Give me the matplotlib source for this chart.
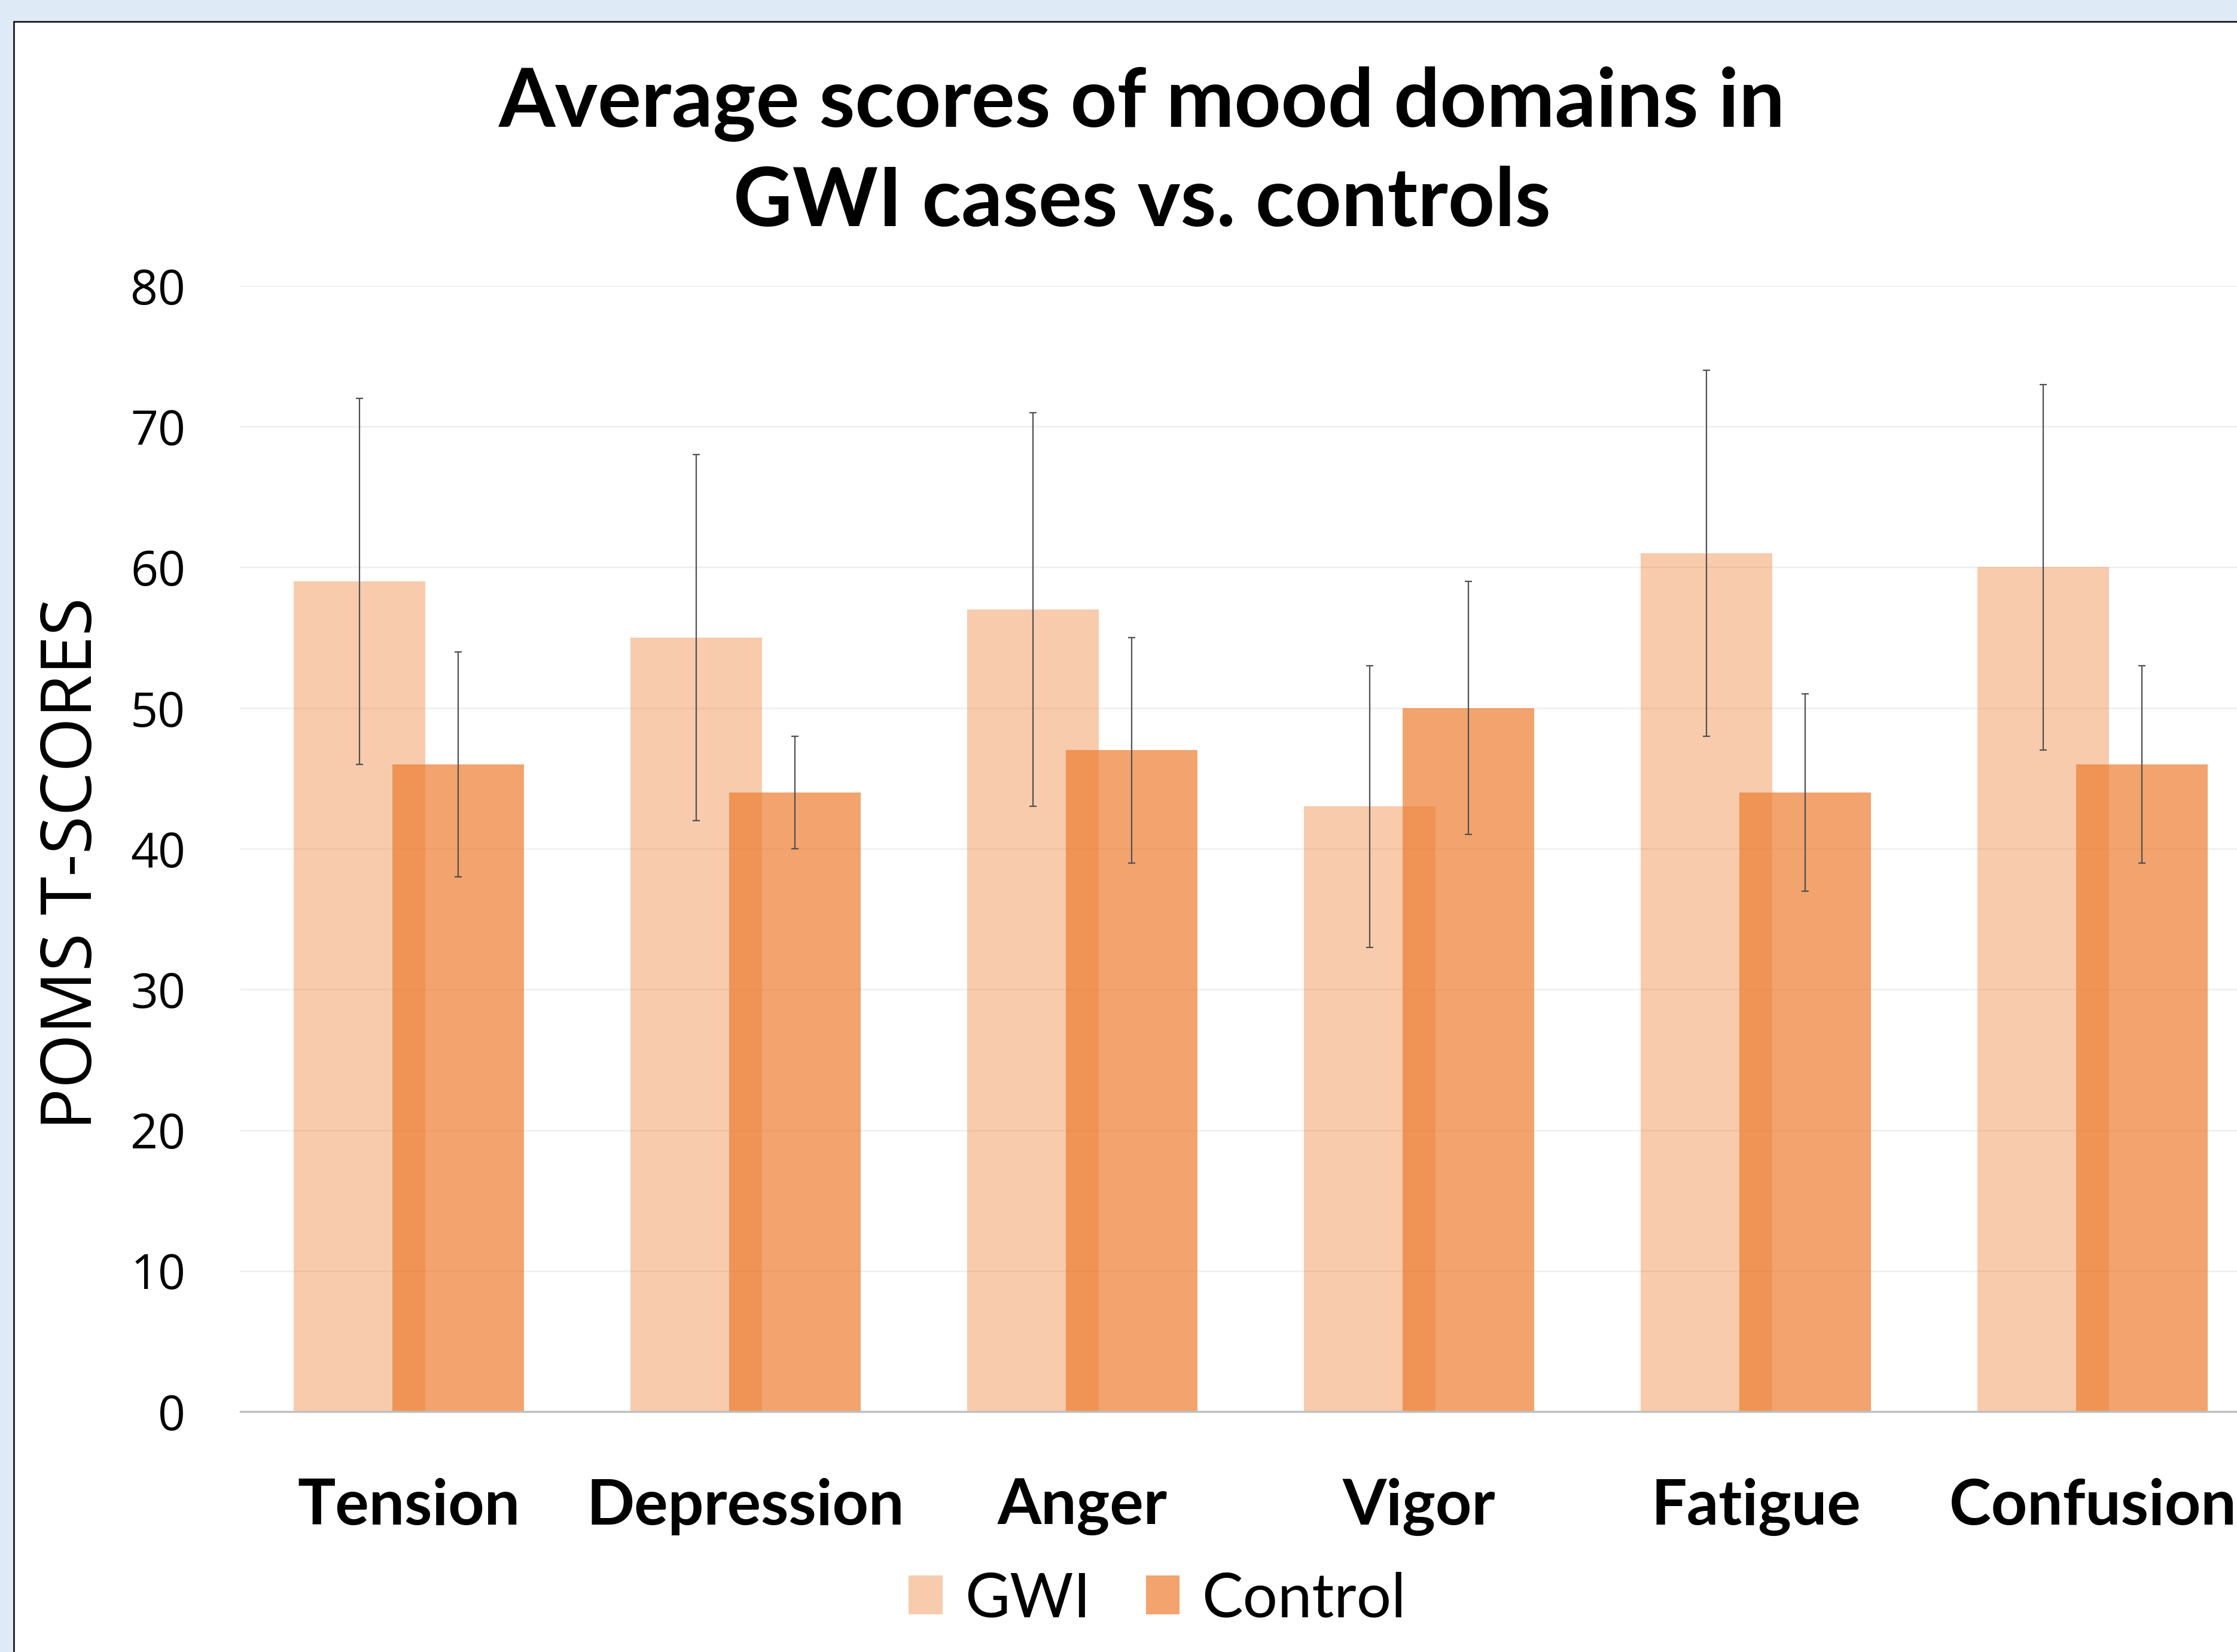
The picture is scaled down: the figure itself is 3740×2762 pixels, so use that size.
import matplotlib.pyplot as plt
import numpy as np
from matplotlib.patches import Rectangle

# Data
domains = ["Tension", "Depression", "Anger", "Vigor", "Fatigue", "Confusion"]
gwi_mean = [59, 55, 57, 43, 61, 60]
gwi_sd = [13, 13, 14, 10, 13, 13]
control_mean = [46, 44, 47, 50, 44, 46]
control_sd = [8, 4, 8, 9, 7, 7]

orange = "#ED7D31"
W, H = 3740, 2762
dpi = 100

fig = plt.figure(figsize=(W / dpi, H / dpi), dpi=dpi)
fig.patch.set_facecolor("#DEEAF6")

# white chart panel with dark border (runs off right/bottom edge)
fig.patches.append(Rectangle((23 / W, -0.1), 1.2, 1 - 36 / H + 0.1,
                             transform=fig.transFigure, facecolor="white",
                             edgecolor="#1a1a1a", linewidth=2.0, zorder=-10))

# axes placed in pixel terms: x from -0.5 to 5.5, 563 px per category
ax = fig.add_axes([402 / W, 402 / H, 6 * 563 / W, (2284 - 402) / H])
ax.set_facecolor("none")

x = np.arange(len(domains))
off = 0.1465
bw = 0.39
ax.bar(x - off, gwi_mean, bw, color=orange, alpha=0.4, label="GWI", zorder=2,
       linewidth=0)
ax.bar(x + off, control_mean, bw, color=orange, alpha=0.7, label="Control",
       zorder=2, linewidth=0)
ax.errorbar(x - off, gwi_mean, yerr=gwi_sd, fmt="none", ecolor="#505050",
            elinewidth=1.6, capsize=4.5, capthick=1.6, zorder=3)
ax.errorbar(x + off, control_mean, yerr=control_sd, fmt="none", ecolor="#505050",
            elinewidth=1.6, capsize=4.5, capthick=1.6, zorder=3)

ax.set_xlim(-0.5, 5.5)
ax.set_ylim(0, 80)
ax.set_yticks(range(0, 81, 10))
ax.yaxis.grid(True, color="#F0F0F0", linewidth=2.0, zorder=0)
ax.set_axisbelow(True)
for s in ["top", "right", "left"]:
    ax.spines[s].set_visible(False)
ax.spines["bottom"].set_color("#BFBFBF")
ax.spines["bottom"].set_linewidth(2.5)
ax.spines["bottom"].set_zorder(4)

ax.tick_params(axis="both", length=0)
ax.tick_params(axis="y", pad=66)
ax.set_yticklabels([str(v) for v in range(0, 81, 10)], fontsize=58,
                   family="Open Sans")
ax.set_xticks(x)
ax.set_xticklabels(domains, fontsize=76, fontweight="bold", family="Lato")
ax.tick_params(axis="x", pad=80)

fig.text(123 / W, 1 - 1444 / H, "POMS T-SCORES", rotation=90, ha="center",
         va="center", fontsize=84, family="Open Sans")

fig.text(1909 / W, 1 - 256 / H, "Average scores of mood domains in\nGWI cases vs. controls",
         ha="center", va="center", fontsize=98, fontweight="bold", family="Lato",
         linespacing=1.4)

fig.legend(loc="center", bbox_to_anchor=(1935 / W, 1 - 2674 / H), ncol=2,
           frameon=False, prop={"family": "Lato", "size": 74},
           handlelength=0.55, handleheight=0.6, handletextpad=0.36,
           columnspacing=0.9)

fig.savefig("out.png", dpi=dpi, facecolor=fig.get_facecolor())
